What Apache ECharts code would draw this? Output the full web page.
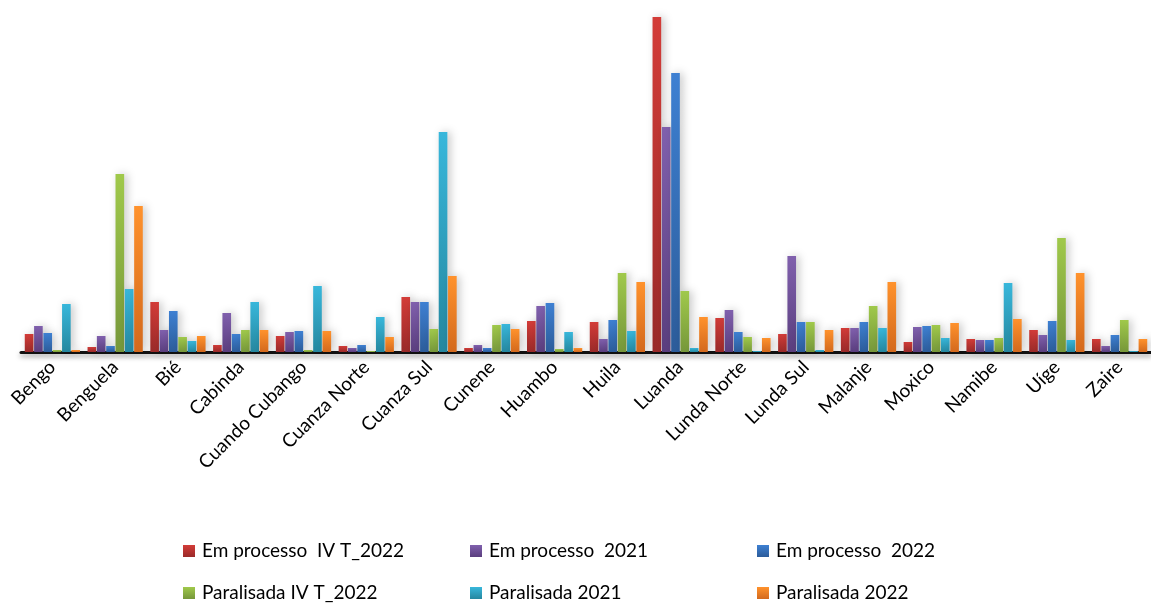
<!DOCTYPE html>
<html>
<head>
<meta charset="utf-8">
<script src="https://cdn.jsdelivr.net/npm/echarts@6/dist/echarts.min.js"></script>
<style>
  html, body { margin: 0; padding: 0; background: #fff; }
  #chart { width: 1151px; height: 604px; }
</style>
</head>
<body>
<div id="chart"></div>
<script>
// Provinces of Angola
const categories = ['Bengo', 'Benguela', 'Bié', 'Cabinda', 'Cuando Cubango', 'Cuanza Norte',
  'Cuanza Sul', 'Cunene', 'Huambo', 'Huila', 'Luanda', 'Lunda Norte', 'Lunda Sul',
  'Malanje', 'Moxico', 'Namibe', 'Uíge', 'Zaire'];

const seriesNames = ['Em processo  IV T_2022', 'Em processo  2021', 'Em processo  2022',
  'Paralisada IV T_2022', 'Paralisada 2021', 'Paralisada 2022'];

const emProcessoIVT2022 = [18, 5, 50, 7, 16, 6, 55, 4, 31, 30, 335, 34, 18, 24, 10, 13, 22, 13];
const emProcesso2021    = [26, 16, 22, 39, 20, 4, 50, 7, 46, 13, 225, 42, 96, 24, 25, 12, 17, 6];
const emProcesso2022    = [19, 6, 41, 18, 21, 7, 50, 4, 49, 32, 279, 20, 30, 30, 26, 12, 31, 17];
const paralisadaIVT2022 = [2, 178, 15, 22, 2, 1, 23, 27, 3, 79, 61, 15, 30, 46, 27, 14, 114, 32];
const paralisada2021    = [48, 63, 11, 50, 66, 35, 220, 28, 20, 21, 4, 1, 2, 24, 14, 69, 12, 1];
const paralisada2022    = [2, 146, 16, 22, 21, 15, 76, 23, 4, 70, 35, 14, 22, 70, 29, 33, 79, 13];

const seriesData = [emProcessoIVT2022, emProcesso2021, emProcesso2022,
  paralisadaIVT2022, paralisada2021, paralisada2022];

// top / bottom shades for each bar colour
const shades = [
  ['#d33c38', '#9a2a29'],
  ['#8060ad', '#5a3e7e'],
  ['#3e80d2', '#2c5c9a'],
  ['#a0c94b', '#76973a'],
  ['#38b7db', '#25879f'],
  ['#ff922c', '#d3691d']
];

function grad(pair) {
  return new echarts.graphic.LinearGradient(0, 0, 0, 1, [
    { offset: 0, color: pair[0] },
    { offset: 1, color: pair[1] }
  ]);
}

const font = 'Lato, "Open Sans", sans-serif';

const legendX = [183, 470, 757];
const legendY = [540, 582];
const legends = seriesNames.map((name, i) => ({
  data: [name],
  left: legendX[i % 3],
  top: legendY[Math.floor(i / 3)],
  icon: 'rect',
  itemWidth: 12,
  itemHeight: 12,
  itemGap: 0,
  padding: 0,
  selectedMode: false,
  textStyle: { fontFamily: font, fontSize: 19, color: '#000', lineHeight: 22, padding: [0, 0, 0, 2] }
}));

const series = seriesData.map((data, i) => ({
  name: seriesNames[i],
  type: 'bar',
  data: data,
  barGap: '8%',
  barCategoryGap: '12%',
  itemStyle: {
    color: grad(shades[i]),
    shadowColor: 'rgba(0,0,0,0.22)',
    shadowBlur: 8,
    shadowOffsetX: 3,
    shadowOffsetY: 0
  },
  emphasis: { disabled: true }
}));

const chart = echarts.init(document.getElementById('chart'), null, { renderer: 'canvas' });
chart.setOption({
  animation: false,
  backgroundColor: '#fff',
  legend: legends,
  grid: { left: 21, top: 17, width: 1136, bottom: 252, containLabel: false },
  xAxis: {
    type: 'category',
    data: categories,
    axisTick: { show: false },
    axisLine: {
      lineStyle: {
        color: '#111', width: 3,
        shadowColor: 'rgba(0,0,0,0.35)', shadowBlur: 5, shadowOffsetY: 3
      }
    },
    axisLabel: {
      interval: 0,
      rotate: 45,
      margin: 12,
      fontFamily: font,
      fontSize: 19,
      color: '#000'
    }
  },
  yAxis: {
    type: 'value',
    min: 0,
    max: 335,
    show: false
  },
  series: series
});
</script>
</body>
</html>
